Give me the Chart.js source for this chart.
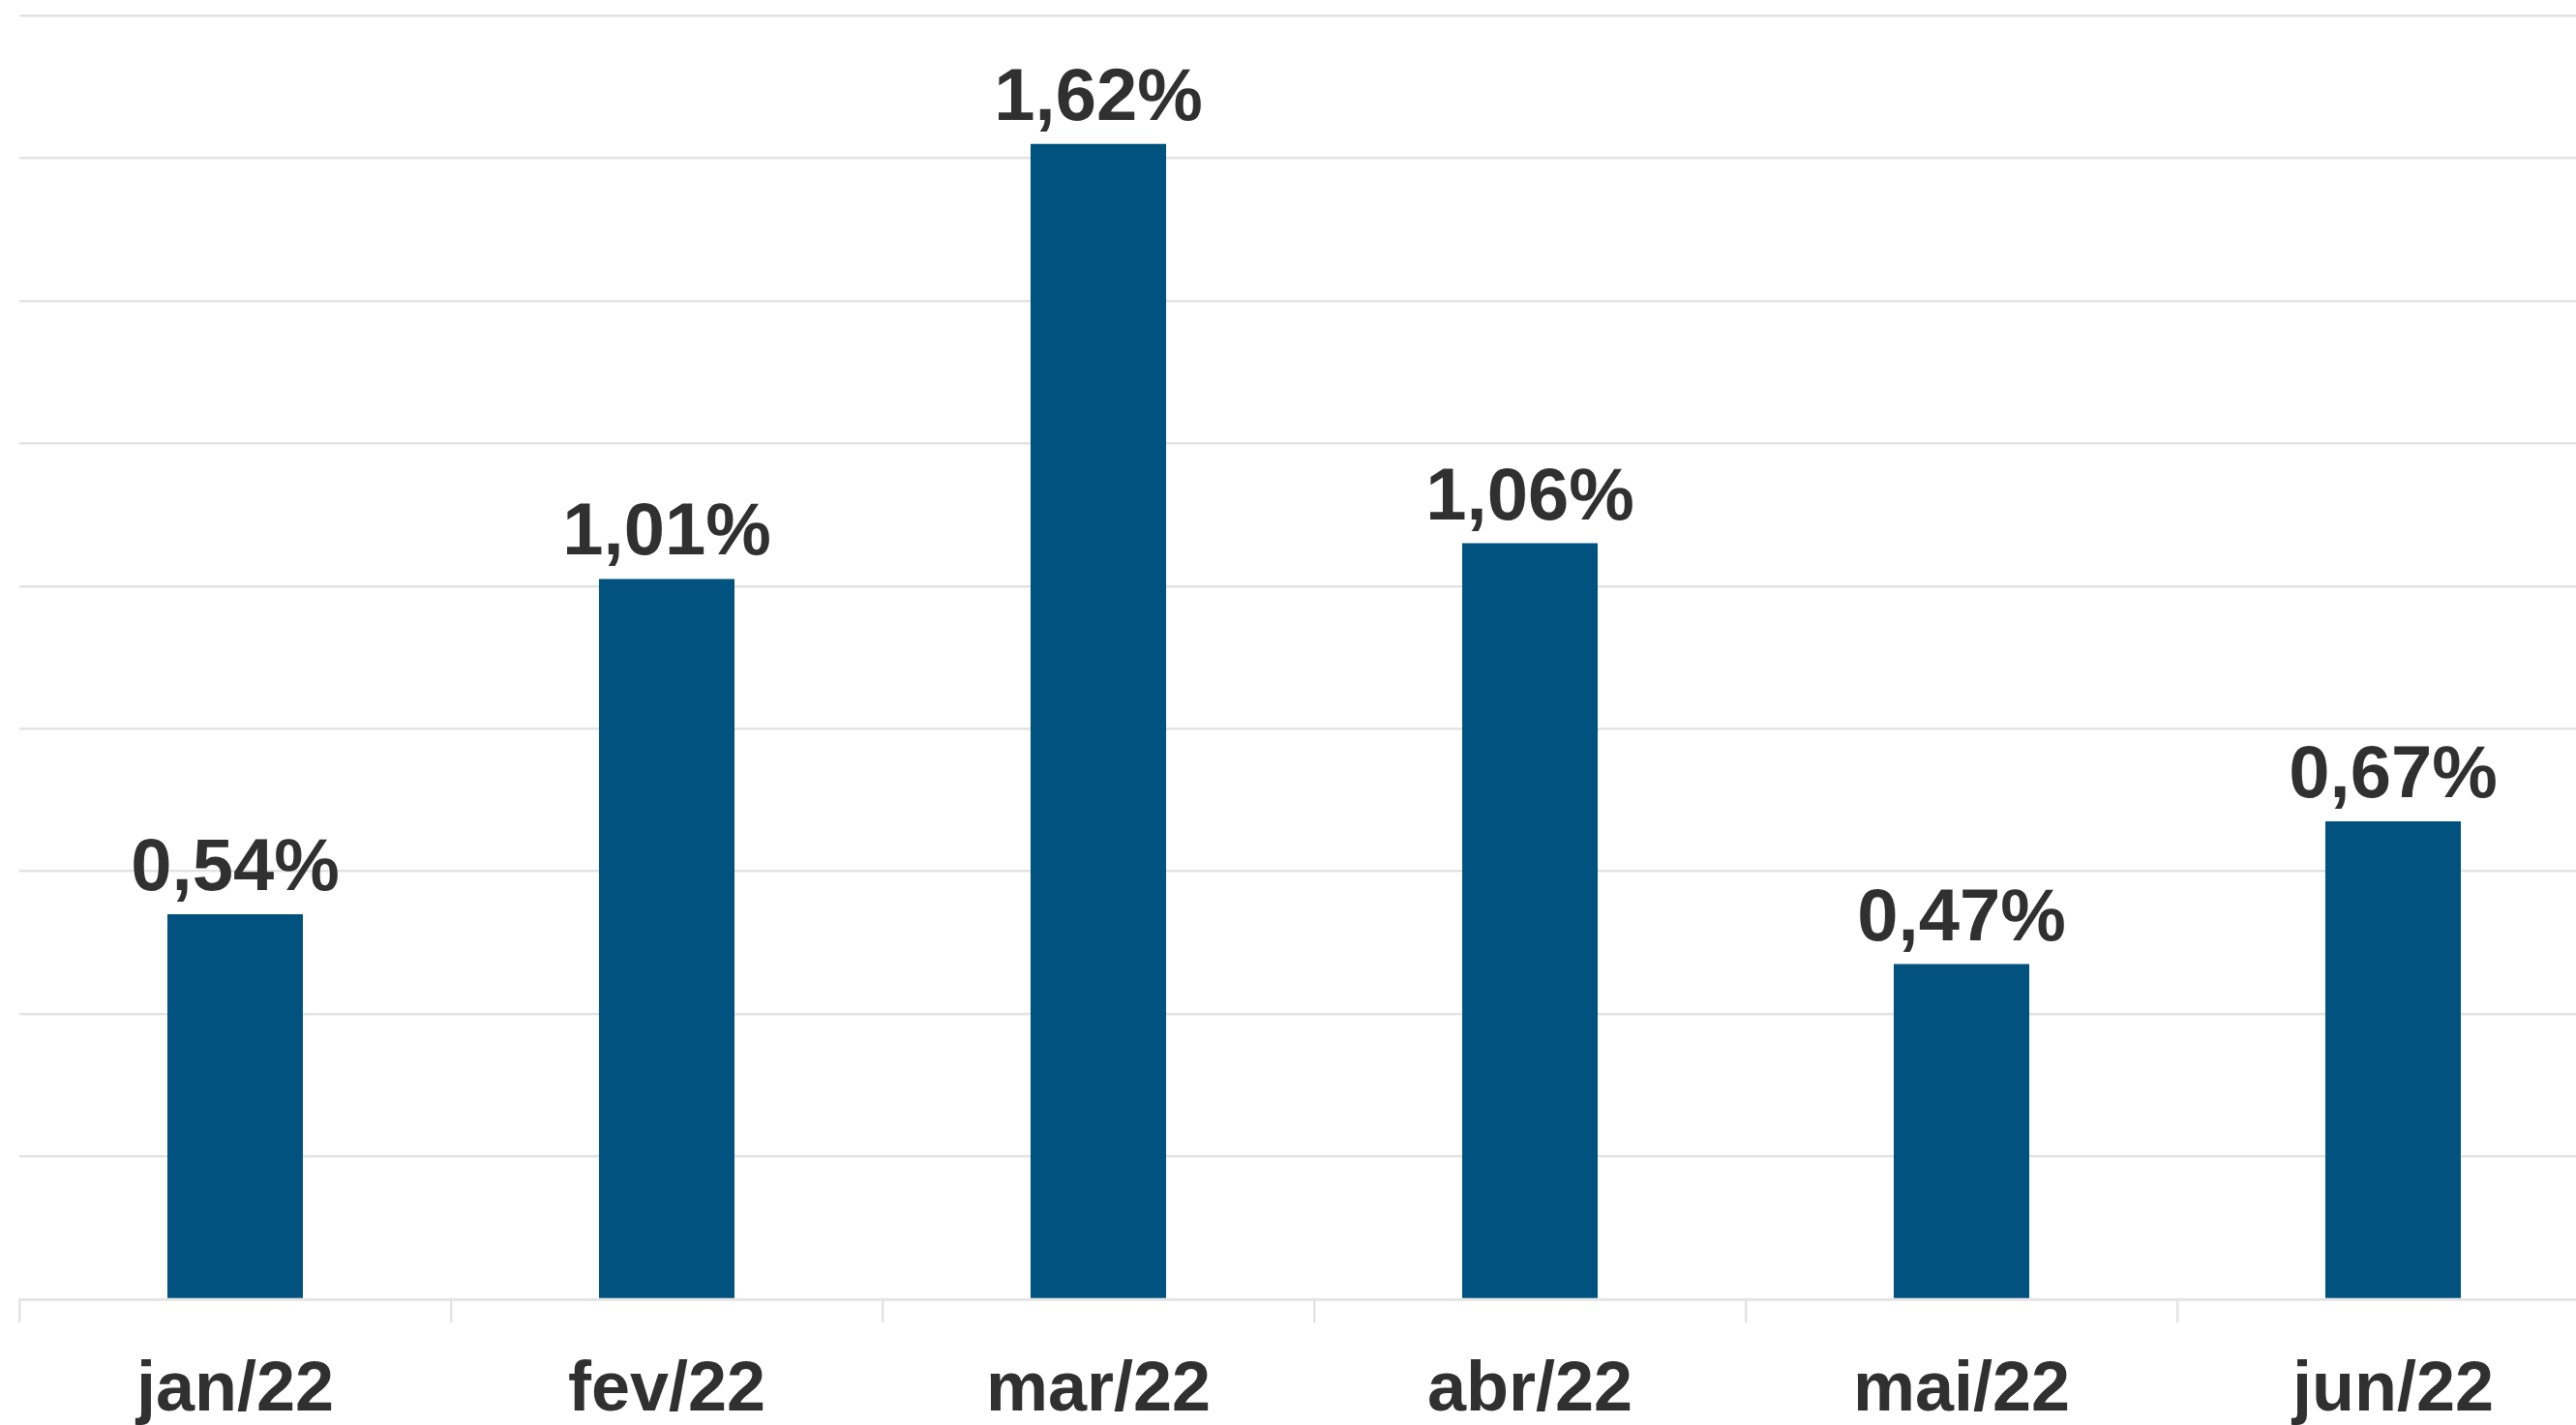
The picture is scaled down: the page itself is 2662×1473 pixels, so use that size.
<!DOCTYPE html>
<html>
<head>
<meta charset="utf-8">
<script src="https://cdn.jsdelivr.net/npm/chart.js@4"></script>
<style>
    html, body { margin: 0; padding: 0; background: #ffffff; overflow: hidden; }
    #wrap { position: relative; width: 2700px; height: 1473px; }
</style>
</head>
<body>
<div id="wrap"><canvas id="barChart"></canvas></div>
<script>
const months = ['jan/22', 'fev/22', 'mar/22', 'abr/22', 'mai/22', 'jun/22'];
const rates = [0.54, 1.01, 1.62, 1.06, 0.47, 0.67];

const barColor = '#02527F';
const textColor = '#303030';
const gridColor = '#e3e3e3';

// value labels above each bar, pt-BR style "1,62%"
const valueLabels = {
    id: 'valueLabels',
    afterDatasetsDraw(chart) {
        const ctx = chart.ctx;
        const meta = chart.getDatasetMeta(0);
        ctx.save();
        ctx.font = 'bold 76px "Liberation Sans", Arial, sans-serif';
        ctx.fillStyle = textColor;
        ctx.textAlign = 'center';
        ctx.textBaseline = 'alphabetic';
        meta.data.forEach((bar, i) => {
            const txt = rates[i].toFixed(2).replace('.', ',') + '%';
            ctx.fillText(txt, bar.x, bar.y - 25);
        });
        ctx.restore();
    }
};

const ctxBar = document.getElementById('barChart').getContext('2d');

const barChart = new Chart(ctxBar, {
    type: 'bar',
    data: {
        labels: months,
        datasets: [{
            data: rates,
            backgroundColor: barColor,
            borderWidth: 0,
            categoryPercentage: 1,
            barPercentage: 0.314
        }]
    },
    options: {
        responsive: true,
        maintainAspectRatio: false,
        animation: false,
        layout: {
            padding: { left: 20, right: 4, top: 16, bottom: 0 }
        },
        scales: {
            y: {
                min: 0,
                max: 1.8,
                ticks: { stepSize: 0.2, display: false },
                border: { display: false },
                grid: { color: gridColor, lineWidth: 2.5, drawTicks: false }
            },
            x: {
                afterFit: (scale) => { scale.height = 130; },
                border: { color: gridColor, width: 2.5 },
                grid: {
                    offset: true,
                    drawOnChartArea: false,
                    color: gridColor,
                    lineWidth: 2.5,
                    tickLength: 24
                },
                ticks: {
                    padding: 28,
                    maxRotation: 0,
                    minRotation: 0,
                    color: textColor,
                    font: { family: '"Liberation Sans", Arial, sans-serif', size: 72, weight: 'bold' }
                }
            }
        },
        plugins: {
            legend: { display: false },
            tooltip: { enabled: false }
        }
    },
    plugins: [valueLabels]
});
</script>
</body>
</html>
